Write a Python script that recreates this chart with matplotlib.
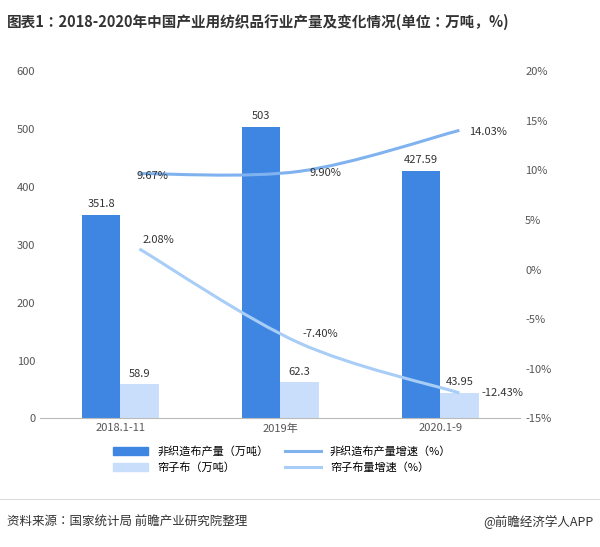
import matplotlib
matplotlib.use("Agg")
import matplotlib.pyplot as plt
import numpy as np
from matplotlib.path import Path
from matplotlib.patches import PathPatch
from matplotlib.lines import Line2D
from matplotlib.patches import Patch
from matplotlib import font_manager

names = {f.name for f in font_manager.fontManager.ttflist}
cjk = [n for n in ["Noto Sans CJK SC", "Noto Sans CJK JP", "Noto Sans CJK TC", "Noto Sans CJK KR"] if n in names]
plt.rcParams['font.family'] = cjk + ['DejaVu Sans']
plt.rcParams['axes.unicode_minus'] = False

categories = ["2018.1-11", "2019年", "2020.1-9"]
nonwoven = [351.8, 503, 427.59]
curtain = [58.9, 62.3, 43.95]
nonwoven_growth = [9.67, 9.90, 14.03]
curtain_growth = [2.08, -7.40, -12.43]
nonwoven_labels = ["351.8", "503", "427.59"]
curtain_labels = ["58.9", "62.3", "43.95"]

c_dark = "#3f86e2"
c_light = "#c8defa"
c_l1 = "#80b2ef"
c_l2 = "#a8cdf6"

fig = plt.figure(figsize=(6.0, 5.47), dpi=100)
ax = fig.add_axes([0.067, 0.235, 0.8, 0.635])
ax2 = ax.twinx()
x = np.arange(len(categories))
w = 0.24
ax.bar(x - w/2, nonwoven, w, color=c_dark)
ax.bar(x + w/2, curtain, w, color=c_light)
for xi, v, t in zip(x, nonwoven, nonwoven_labels):
    ax.text(xi - w/2, v + 10, t, ha='center', va='bottom', fontsize=8, color='#333333')
for xi, v, t in zip(x, curtain, curtain_labels):
    ax.text(xi + w/2, v + 10, t, ha='center', va='bottom', fontsize=8, color='#333333')
ax.set_ylim(0, 600)
ax.set_yticks(range(0, 601, 100))
ax.set_xlim(-0.5, 2.5)
ax.set_xticks(x)
ax.set_xticklabels(categories)
ax2.set_ylim(-15, 20)
ax2.set_yticks(range(-15, 21, 5))
ax2.set_yticklabels([f"{v}%" for v in range(-15, 21, 5)])
for a in (ax, ax2):
    for s in ['top', 'right', 'left']:
        a.spines[s].set_visible(False)
    a.tick_params(length=0, labelsize=8, colors='#555555')
ax2.spines['bottom'].set_visible(False)
ax.spines['bottom'].set_color('#bbbbbb')

line_x = x + w/2

def smooth(ys, color):
    pts = list(zip(line_x, ys))
    verts = [pts[0]]; codes = [Path.MOVETO]
    n = len(pts)
    for i in range(n - 1):
        p0 = pts[i-1] if i > 0 else pts[i]
        p1 = pts[i]; p2 = pts[i+1]
        p3 = pts[i+2] if i + 2 < n else pts[i+1]
        c1 = (p1[0] + (p2[0]-p0[0])/6, p1[1] + (p2[1]-p0[1])/6)
        c2 = (p2[0] - (p3[0]-p1[0])/6, p2[1] - (p3[1]-p1[1])/6)
        verts += [c1, c2, p2]; codes += [Path.CURVE4]*3
    ax2.add_patch(PathPatch(Path(verts, codes), fill=False, edgecolor=color, lw=2.2))

smooth(nonwoven_growth, c_l1)
smooth(curtain_growth, c_l2)
for i, v in enumerate(nonwoven_growth):
    ax2.text(line_x[i] - (0.02 if i == 0 else -0.06), v - 0.2, f"{v:.2f}%",
             ha='left', va='center', fontsize=8, color='#333333')
for i, v in enumerate(curtain_growth):
    dy = 0.9 if i < 2 else 0
    ax2.text(line_x[i] + (0.02 if i < 2 else 0.14), v + dy, f"{v:.2f}%",
             ha='left', va='center', fontsize=8, color='#333333')

fig.text(0.012, 0.96, "图表1：2018-2020年中国产业用纺织品行业产量及变化情况(单位：万吨，%)",
         fontsize=10.5, fontweight='bold', color='#333333', va='center')
handles = [Patch(color=c_dark), Patch(color=c_light),
           Line2D([], [], color=c_l1, lw=2.2), Line2D([], [], color=c_l2, lw=2.2)]
labels = ["非织造布产量（万吨）", "帘子布（万吨）", "非织造布产量增速（%）", "帘子布量增速（%）"]
fig.legend(handles, labels, ncol=2, loc='center', bbox_to_anchor=(0.47, 0.16),
           frameon=False, fontsize=8, handlelength=3.2, columnspacing=1.5)
fig.add_artist(Line2D([0, 1], [0.088, 0.088], color='#dddddd', lw=0.8))
fig.text(0.012, 0.045, "资料来源：国家统计局 前瞻产业研究院整理", fontsize=9, color='#333333', va='center')
fig.text(0.99, 0.045, "@前瞻经济学人APP", fontsize=9, color='#333333', va='center', ha='right')
fig.savefig("out.png", dpi=100)
